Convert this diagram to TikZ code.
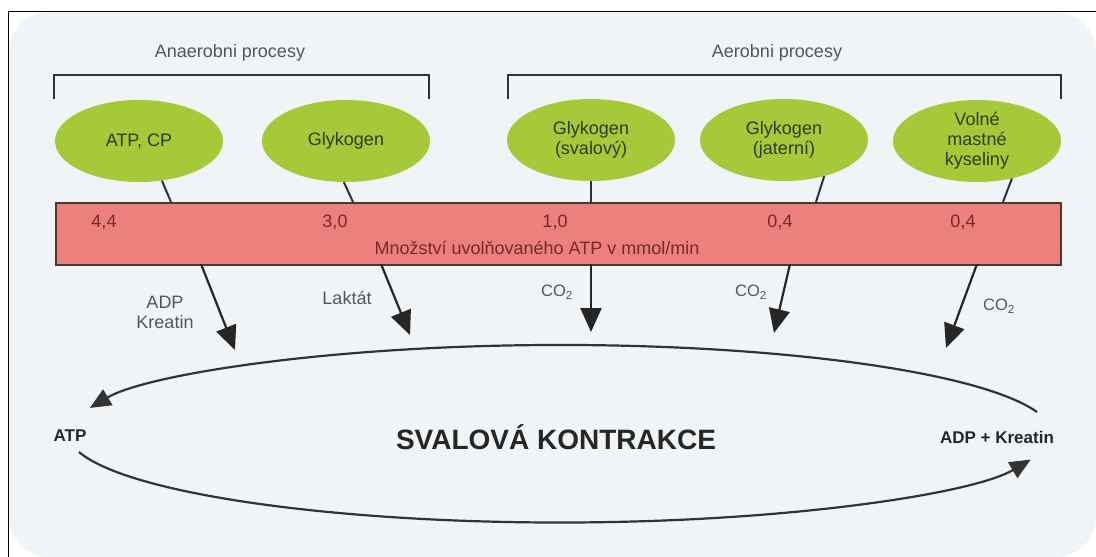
\documentclass[tikz,border=0pt]{standalone}
\usepackage{xcolor}
\usepackage{fontspec}
\setmainfont{Liberation Sans}
\usepackage{tikz}
\usetikzlibrary{shapes,arrows.meta,positioning,calc}

\definecolor{bgblue}{RGB}{240,244,247}
\definecolor{leaf}{RGB}{166,201,58}
\definecolor{leaftext}{RGB}{48,58,26}
\definecolor{salmon}{RGB}{236,128,124}
\definecolor{barline}{RGB}{72,58,58}
\definecolor{numred}{RGB}{120,42,40}
\definecolor{labelgray}{RGB}{85,85,85}
\definecolor{darkline}{RGB}{45,50,58}

\begin{document}
\begin{tikzpicture}[
    x=1pt, y=-1pt,
    every node/.style={font=\fontsize{18}{20}\selectfont},
    source/.style={ellipse, fill=leaf, minimum width=168pt, minimum height=82pt, inner sep=0pt, text=leaftext, align=center},
    rate/.style={text=numred},
    lbl/.style={text=labelgray, align=center},
    co/.style={text=labelgray, font=\fontsize{16.5}{18}\selectfont},
    bracket/.style={draw=darkline, line width=2pt},
    feed/.style={draw=darkline, line width=2pt},
    flow/.style={draw=black!85, line width=2.2pt, -{Triangle[length=24pt,width=21pt]}},
    loopline/.style={draw=black!80, line width=2.2pt, -{Triangle[length=21pt,width=18pt]}},
    strong/.style={text=black!85, font=\bfseries\fontsize{17}{20}\selectfont}
]
    \useasboundingbox (0,0) rectangle (1096,557);
    \fill [bgblue, rounded corners=40pt] (9,12) rectangle (1096,557);
    \draw [line width=1.5pt] (8.5,557) -- (8.5,11.5) -- (1096,11.5);

    \node [lbl] (anaer) at (230,53) {Anaerobni procesy};
    \draw [bracket] (54,99) -- (54,75) -- (429,75) -- (429,99);
    \node [lbl] (aer) at (777,53) {Aerobni procesy};
    \draw [bracket] (508,99) -- (508,75) -- (1061,75) -- (1061,99);

    \node [source] (atpcp) at (139,141) {ATP, CP};
    \node [source] (glyk) at (346,141) {Glykogen};
    \node [source] (glyksv) at (591,140) {Glykogen\\(svalový)};
    \node [source] (glykjat) at (784,140) {Glykogen\\(jaterní)};
    \node [source] (mk) at (977,141) {Volné\\mastné\\kyseliny};

    \node [draw=barline, line width=1.5pt, fill=salmon, minimum width=1005pt, minimum height=62pt, inner sep=0pt, anchor=north west] (bar) at (55,202) {};
    \node [rate] (r1) at (104,222) {4,4};
    \node [rate] (r2) at (335,222) {3,0};
    \node [rate] (r3) at (555,222) {1,0};
    \node [rate] (r4) at (780,222) {0,4};
    \node [rate] (r5) at (963,222) {0,4};
    \node [rate] (unit) at (537,248) {Množství uvolňovaného ATP v mmol/min};

    \coordinate (t1) at (171,202);
    \coordinate (t2) at (353,202);
    \coordinate (t3) at (591,202);
    \coordinate (t4) at (816,202);
    \coordinate (t5) at (1003,202);
    \draw [feed] (atpcp.-60) -- (t1);
    \draw [feed] (glyk.-93) -- (t2);
    \draw [feed] (glyksv.south) -- (t3);
    \draw [feed] (glykjat.-42) -- (t4);
    \draw [feed] (mk.-47) -- (t5);

    \coordinate (s1) at (201,264);
    \coordinate (s2) at (381,264);
    \coordinate (s3) at (591,264);
    \coordinate (s4) at (790,264);
    \coordinate (s5) at (977,264);
    \coordinate (e1) at (235,350);
    \coordinate (e2) at (410,335);
    \coordinate (e3) at (591,332);
    \coordinate (e4) at (774,333);
    \coordinate (e5) at (946,348);
    \draw [flow] (s1) -- (e1);
    \draw [flow] (s2) -- (e2);
    \draw [flow] (s3) -- (e3);
    \draw [flow] (s4) -- (e4);
    \draw [flow] (s5) -- (e5);

    \node [lbl] (adpkr) at (165,312) {ADP\\Kreatin};
    \node [lbl] (lakt) at (347,298) {Laktát};
    \node [co] (co1) at (557,292) {CO\textsubscript{2}};
    \node [co] (co2) at (751,292) {CO\textsubscript{2}};
    \node [co] (co3) at (999,306) {CO\textsubscript{2}};

    \node [text=black!85, font=\bfseries\fontsize{28}{32}\selectfont] (kontr) at (556,437) {SVALOVÁ KONTRAKCE};
    \node [strong] (atp) at (70,436) {ATP};
    \node [strong] (adpk) at (997,437) {ADP + Kreatin};

    \coordinate (topR) at (1037,412);
    \coordinate (botL) at (79,452);
    \draw [loopline] (topR) arc[start angle=14.3, end angle=163, x radius=492pt, y radius=89pt];
    \draw [loopline] (botL) arc[start angle=-168, end angle=-17, x radius=492pt, y radius=89pt];

\end{tikzpicture}
\end{document}
